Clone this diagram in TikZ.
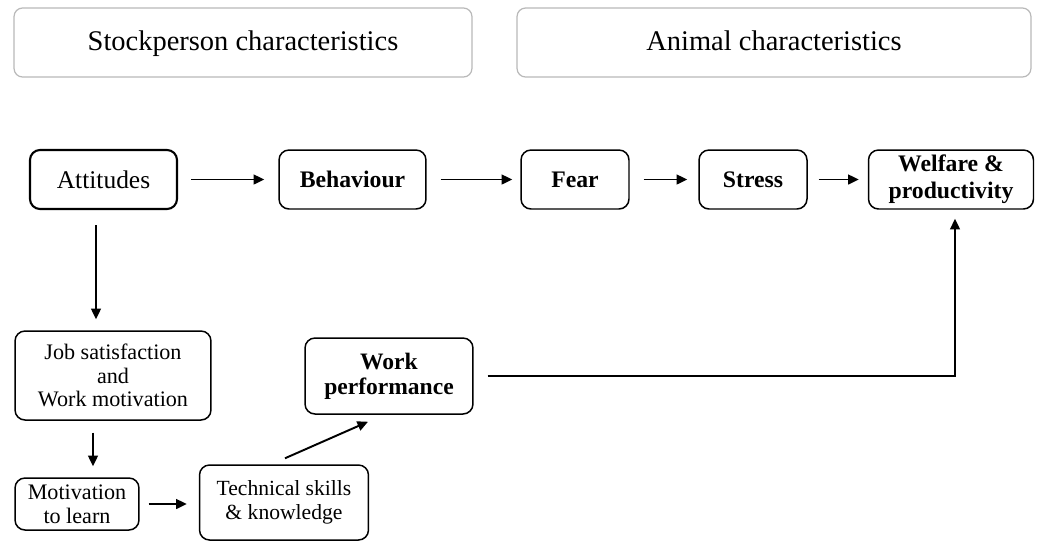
\documentclass[tikz,border=0pt]{standalone}
\usepackage{fontspec}
\setmainfont{Liberation Serif}
\usetikzlibrary{arrows.meta,calc}
\tikzset{
  hdr/.style={draw=gray!55, line width=0.7pt, rounded corners=0.17cm, fill=white, align=center, font=\fontsize{16.2}{17}\selectfont, inner sep=0pt, text height=11.5pt, text depth=2.5pt},
  bx/.style={draw=black, line width=0.85pt, rounded corners=0.2cm, align=center, font=\fontsize{14.5}{15.5}\selectfont, inner sep=0pt},
  bxb/.style={bx, font=\fontsize{13.5}{15.5}\selectfont\bfseries},
  sm/.style={bx, font=\fontsize{12.6}{13.4}\selectfont},
  smb/.style={bx, font=\fontsize{13.4}{14.2}\selectfont\bfseries},
  arr/.style={line width=1.1pt, -{Triangle[length=6pt,width=5.5pt]}},
}
\begin{document}
\begin{tikzpicture}[x=0.02cm,y=-0.02cm]
\useasboundingbox (0,0) rectangle (1047,542);
% headers
\node[hdr, minimum width=9.16cm, minimum height=1.38cm] (h1) at (243,42.5) {Stockperson characteristics};
\node[hdr, minimum width=10.28cm, minimum height=1.38cm] (h2) at (774,42.5) {Animal characteristics};
% top row
\node[bx, line width=1.2pt, minimum width=2.94cm, minimum height=1.18cm] (att) at (103.5,179.5) {Attitudes};
\node[bxb, minimum width=2.94cm, minimum height=1.18cm] (beh) at (352.5,179.5) {Behaviour};
\node[bxb, minimum width=2.16cm, minimum height=1.18cm] (fear) at (575,179.5) {Fear};
\node[bxb, minimum width=2.16cm, minimum height=1.18cm] (stress) at (753,179.5) {Stress};
\node[bxb, minimum width=3.3cm, minimum height=1.18cm] (wel) at (951,179.5) {Welfare \&\\productivity};
% lower part
\node[sm, minimum width=3.92cm, minimum height=1.78cm] (job) at (113,375.5) {Job satisfaction\\and\\Work motivation};
\node[sm, minimum width=2.48cm, minimum height=1.04cm] (mot) at (77,504) {Motivation\\to learn};
\node[sm, font=\fontsize{12.3}{14}\selectfont, minimum width=3.38cm, minimum height=1.5cm] (tech) at (284,502.5) {Technical skills\\\& knowledge};
\node[smb, minimum width=3.36cm, minimum height=1.52cm] (work) at (389,376) {Work\\performance};
% connectors
\draw[arr, shorten <=0.26cm, shorten >=0.28cm] (att) -- (beh);
\draw[arr, shorten <=0.28cm, shorten >=0.16cm] (beh) -- (fear);
\draw[arr, shorten <=0.28cm, shorten >=0.22cm] (fear) -- (stress);
\draw[arr, shorten <=0.22cm, shorten >=0.18cm] (stress) -- (wel);
\coordinate (a1) at ($(att.south)+(-7.5,0)$);
\draw[arr, shorten <=0.3cm, shorten >=0.22cm] (a1) -- (a1 |- job.north);
\coordinate (j1) at (job.south -| mot.north);
\coordinate (j2) at ($(j1)+(16,0)$);
\draw[arr, shorten <=0.24cm, shorten >=0.22cm] (j2) -- (j2 |- mot.north);
\draw[arr, shorten <=0.18cm, shorten >=0.24cm] (mot) -- (mot -| tech.west);
\coordinate (t1) at ($(tech.north)+(1,-6)$);
\coordinate (w1) at ($(work.south)+(-21,7)$);
\draw[arr] (t1) -- (w1);
\coordinate (w2) at ($(work.east)+(14,0)$);
\coordinate (wb) at ($(wel.south)+(4,0)$);
\draw[arr, shorten >=0.18cm] (w2) -| (wb);
\end{tikzpicture}
\end{document}
